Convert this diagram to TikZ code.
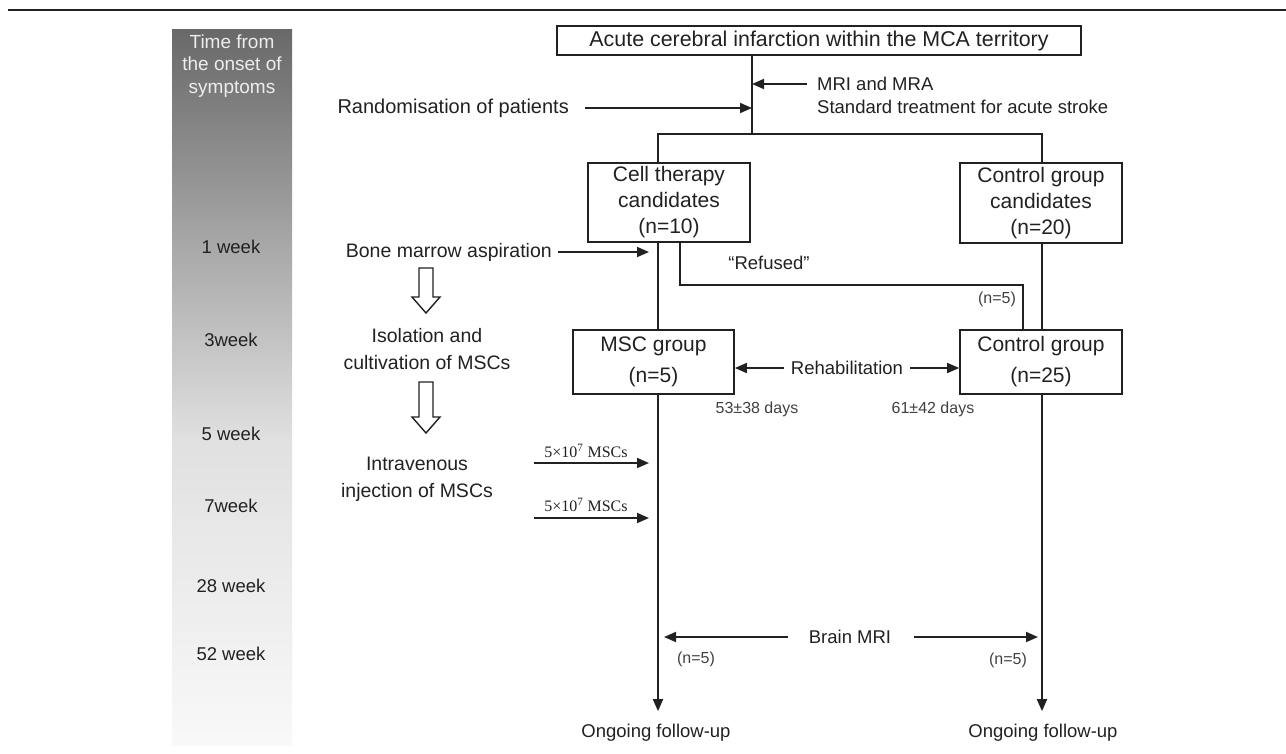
\documentclass[tikz,border=0pt]{standalone}
\usepackage{fontspec}
\setmainfont{Liberation Sans}
\newfontfamily\dosefont{Liberation Serif}
\usetikzlibrary{arrows.meta,calc}

\definecolor{ink}{gray}{0.13}
\definecolor{soft}{gray}{0.25}
\definecolor{barTop}{gray}{0.41}
\definecolor{barMid}{gray}{0.88}
\definecolor{barLow}{gray}{0.975}

\tikzset{
	line/.style={draw=ink, line width=1.8pt},
	arr/.style={line, -{Triangle[length=12pt,width=10pt]}},
	box/.style={line, inner sep=0pt, align=center, text=ink, font=\fontsize{21pt}{26pt}\selectfont},
	lbl/.style={inner sep=2pt, align=center, text=ink, font=\fontsize{19.5pt}{27pt}\selectfont},
	lbls/.style={inner sep=2pt, text=ink, font=\fontsize{18.5pt}{23pt}\selectfont},
	note/.style={inner sep=1pt, text=soft, font=\fontsize{16pt}{20pt}\selectfont},
	wk/.style={inner sep=1pt, text=ink, font=\fontsize{18.5pt}{22pt}\selectfont},
	dose/.style={inner sep=1pt, text=ink, font=\dosefont\fontsize{16pt}{18pt}\selectfont},
	hollow/.style={draw=ink, line width=1.4pt, fill=white},
}

% hollow block arrow: centre x, top y, tip y
\def\blockarrow(#1,#2,#3){\draw[hollow] (#1-7,#2) -- (#1+7,#2) -- (#1+7,#3-16) -- (#1+14,#3-16) -- (#1,#3) -- (#1-14,#3-16) -- (#1-7,#3-16) -- cycle;}

\begin{document}
\begin{tikzpicture}[x=1pt,y=-1pt]
	\useasboundingbox (0,0) rectangle (1286,753);
	
	%%%%% time bar %%%%%
	\draw[draw=ink, line width=1.4pt] (8,10) -- (1286,10);
	\shade[top color=barTop, bottom color=barMid] (172,29) rectangle (292,440);
	\shade[top color=barMid, bottom color=barLow] (172,440) rectangle (292,745);
	\node[wk, text=white!93!black, align=center, font=\fontsize{19pt}{22.5pt}\selectfont] (hdr) at (232,66) {Time from\\the onset of\\symptoms};
	\foreach \y/\t [count=\i] in {247/1 week, 340/3week, 434/5 week, 506/7week, 586/28 week, 654/52 week}
		\node[wk] (wk\i) at (231,\y) {\t};
	
	%%%%% flow %%%%%
	\coordinate (split) at (752,134);
	\coordinate (colL) at (658,0);
	\coordinate (colR) at (1042,0);
	
	\node[box, minimum width=524pt, minimum height=29pt, font=\fontsize{21.4pt}{24pt}\selectfont] (acute) at (819,40.5) {Acute cerebral infarction within the MCA territory};
	\draw[line] (split |- acute.south) -- (split);
	
	\node[lbls, anchor=west] (mri) at (815,84) {MRI and MRA};
	\node[lbls, anchor=west] (std) at (815,107) {Standard treatment for acute stroke};
	\draw[arr] ([xshift=-8pt]mri.west) -- (mri.west -| split);
	
	\node[lbl, anchor=east, font=\fontsize{20pt}{27pt}\selectfont] (rand) at (571,108) {Randomisation of patients};
	\draw[arr] ([xshift=14pt]rand.east) -- (rand.east -| split);
	
	\node[box, minimum width=162pt, minimum height=79pt] (cell) at (669,202.5) {Cell therapy\\candidates\\(n=10)};
	\node[box, minimum width=162pt, minimum height=80pt] (ctrlc) at (1041,203) {Control group\\candidates\\(n=20)};
	\draw[line] (cell.north -| colL) -- (colL |- split) -- (colR |- split) -- (ctrlc.north -| colR);
	
	\node[box, minimum width=161pt, minimum height=64pt, font=\fontsize{21pt}{31pt}\selectfont] (msc) at (653.5,362) {MSC group\\(n=5)};
	\node[box, minimum width=162pt, minimum height=64pt, font=\fontsize{21pt}{31pt}\selectfont] (ctrl) at (1041,362) {Control group\\(n=25)};
	
	\node[lbl, anchor=east] (bma) at (554,252) {Bone marrow aspiration};
	\draw[arr, shorten >=9pt] ([xshift=4pt]bma.east) -- (bma.east -| colL);
	
	\draw[line] (cell.south -| colL) -- (msc.north -| colL);
	\coordinate (refL) at (680,285);
	\coordinate (refR) at (1023,285);
	\draw[line] (cell.south -| refL) -- (refL) -- (refR) -- (refR |- ctrl.north);
	\node[lbls] (refused) at (769,263) {“Refused”};
	\node[note] (nref) at (997,299) {(n=5)};
	\draw[line] (ctrlc.south -| colR) -- (ctrl.north -| colR);
	
	\node[lbls] (rehab) at (847,368) {Rehabilitation};
	\draw[arr] ([xshift=-5pt]rehab.west) -- (rehab.west -| msc.east);
	\draw[arr] ([xshift=5pt]rehab.east) -- (rehab.east -| ctrl.west);
	\node[note] (dmsc) at (757,409) {53±38 days};
	\node[note] (dctrl) at (933,409) {61±42 days};
	
	%%%%% MSC preparation %%%%%
	\blockarrow(426,268,313)
	\node[lbl] (iso) at (427,349) {Isolation and\\cultivation of MSCs};
	\blockarrow(426,382,433)
	\node[lbl] (iv) at (417,479) {Intravenous\\injection of MSCs};
	
	\coordinate (inj1) at (534,463);
	\coordinate (inj2) at (534,518);
	\draw[arr, shorten >=9pt] (inj1) -- (inj1 -| colL);
	\draw[arr, shorten >=9pt] (inj2) -- (inj2 -| colL);
	\node[dose] (dose1) at (586,451) {5×10\textsuperscript{7} MSCs};
	\node[dose] (dose2) at (586,505) {5×10\textsuperscript{7} MSCs};
	
	%%%%% follow-up %%%%%
	\node[lbls] (follL) at (656,733) {Ongoing follow-up};
	\node[lbls] (follR) at (1043,733) {Ongoing follow-up};
	\draw[arr, shorten >=11pt] (msc.south -| colL) -- (follL.north -| colL);
	\draw[arr, shorten >=11pt] (ctrl.south -| colR) -- (follR.north -| colR);
	
	\node[lbls] (bmri) at (850,637) {Brain MRI};
	\draw[arr, shorten >=6pt] ([xshift=-19pt]bmri.west) -- (bmri.west -| colL);
	\draw[arr, shorten >=4pt] ([xshift=21pt]bmri.east) -- (bmri.east -| colR);
	\node[note] (nmsc) at (696,659) {(n=5)};
	\node[note] (nctrl) at (1008,660) {(n=5)};
	
\end{tikzpicture}
\end{document}
